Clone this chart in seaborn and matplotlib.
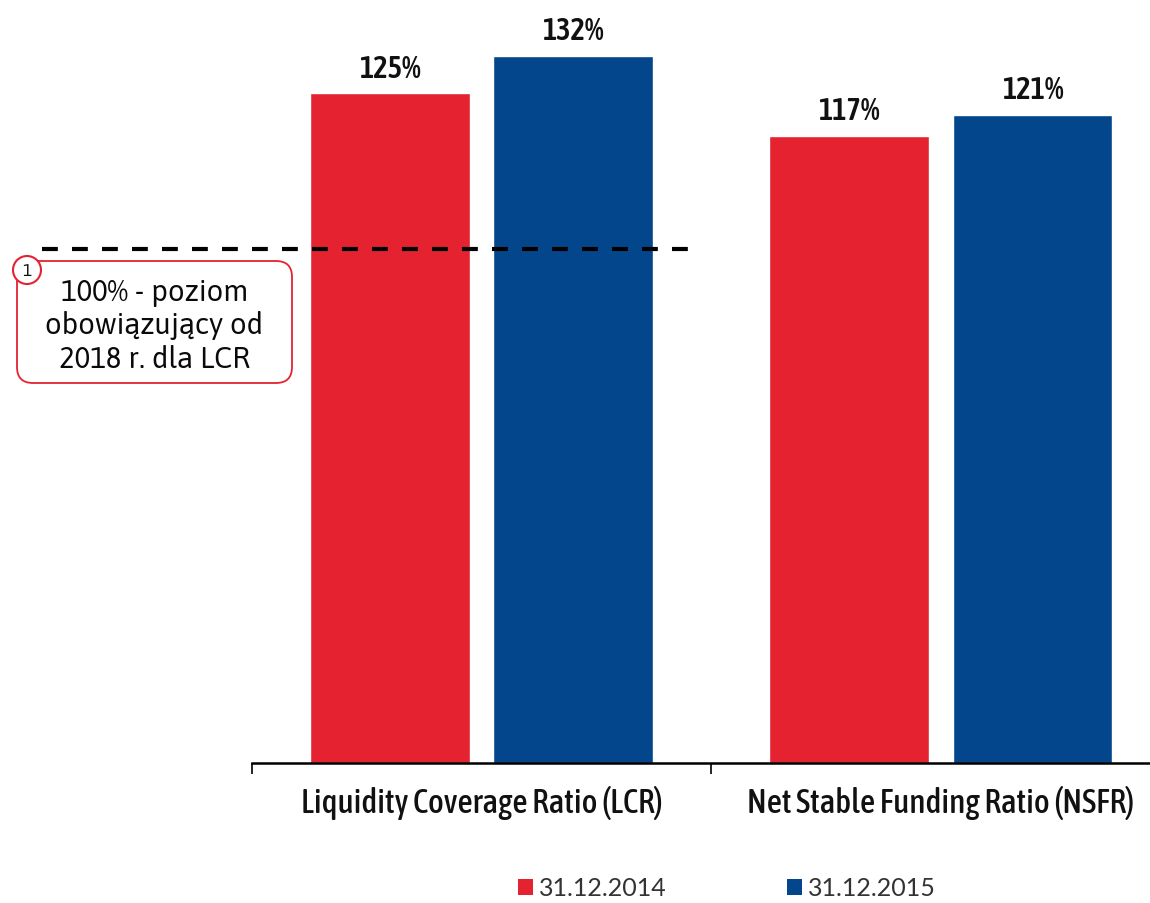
import matplotlib
matplotlib.use("Agg")
import matplotlib.pyplot as plt
from matplotlib.patches import FancyBboxPatch, Circle, Patch
import seaborn as sns
import pandas as pd

categories = ["Liquidity Coverage Ratio (LCR)", "Net Stable Funding Ratio (NSFR)"]
periods = ["31.12.2014", "31.12.2015"]
values_2014 = [125, 117]
values_2015 = [132, 121]
ref_level = 96  # drawn position of the 100% LCR requirement line
note_text = "100% - poziom\nobowiązujący od\n2018 r. dla LCR"

colors = ["#E42230", "#03468C"]

df = pd.DataFrame({
    "category": categories * 2,
    "period": [periods[0]] * 2 + [periods[1]] * 2,
    "value": values_2014 + values_2015,
})

sns.set_theme(style="white")
cond = ["Asap Condensed", "DejaVu Sans"]
humanist = ["Asap", "DejaVu Sans"]
legend_font = ["Lato", "DejaVu Sans"]
plt.rcParams["font.family"] = cond
plt.rcParams["font.style"] = "normal"

W, H = 1150, 904
fig = plt.figure(figsize=(W / 100, H / 100), dpi=100)
ax = fig.add_axes([252 / W, (H - 764) / H, (W - 252) / W, 750 / H])

sns.barplot(data=df, x="category", y="value", hue="period", palette=colors,
            width=0.8, gap=0.13, saturation=1, ax=ax, legend=False)

for c in ax.containers:
    ax.bar_label(c, labels=[f"{int(v)}%" for v in c.datavalues], padding=7,
                 fontsize=22, fontweight="semibold", fontstyle="normal",
                 color="#111111", family=cond)

for s in ["top", "right", "left"]:
    ax.spines[s].set_visible(False)
ax.spines["bottom"].set_color("black")
ax.spines["bottom"].set_linewidth(1.8)
ax.set_yticks([])
ax.set_xlabel("")
ax.set_ylabel("")
ax.set_xticks([-0.5, 0.5, 1.5], minor=True)
ax.tick_params(axis="x", which="minor", length=8, width=1.2, color="black", bottom=True)
ax.tick_params(axis="x", which="major", length=0, pad=16, labelsize=24, labelcolor="#111111")
for lab in ax.get_xticklabels():
    lab.set_fontweight("medium")
    lab.set_fontstyle("normal")
ax.set_xlim(-0.5, 1.456)
ax.set_ylim(0, 140)

# reference line
ax.axhline(ref_level, xmin=(42 - 252) / 898, xmax=(692 - 252) / 898, color="black",
           lw=3, dashes=(3.8, 3.4), clip_on=False)

# annotation box (pixel coordinates of the figure)
box = FancyBboxPatch((17, H - 384), 275, 122, boxstyle="round,pad=0,rounding_size=16",
                     transform=None, facecolor="white", edgecolor="#E42230", lw=1.3,
                     figure=fig)
fig.patches.append(box)
fig.text((17 + 292) / 2 / W, (H - 326) / H, note_text, ha="center", va="center",
         fontsize=21, fontweight="medium", color="#0a0a0a", linespacing=1.2,
         family=humanist)
circ = Circle((27, H - 271), 14, transform=None, facecolor="white",
              edgecolor="#E42230", lw=1.5, figure=fig)
fig.patches.append(circ)
fig.text(27 / W, (H - 271) / H, "1", ha="center", va="center", fontsize=12,
         color="#111111", family=humanist)

handles = [Patch(facecolor=c, edgecolor="none") for c in colors]
fig.legend(handles, periods, loc="center", bbox_to_anchor=(727 / W, (H - 889) / H),
           ncol=2, frameon=False, handlelength=0.6, handleheight=0.6,
           handletextpad=0.25, columnspacing=4.8, borderpad=0,
           prop={"family": legend_font, "size": 18})
for t in fig.legends[0].get_texts():
    t.set_color("#333333")

fig.savefig("out.png", dpi=100)
